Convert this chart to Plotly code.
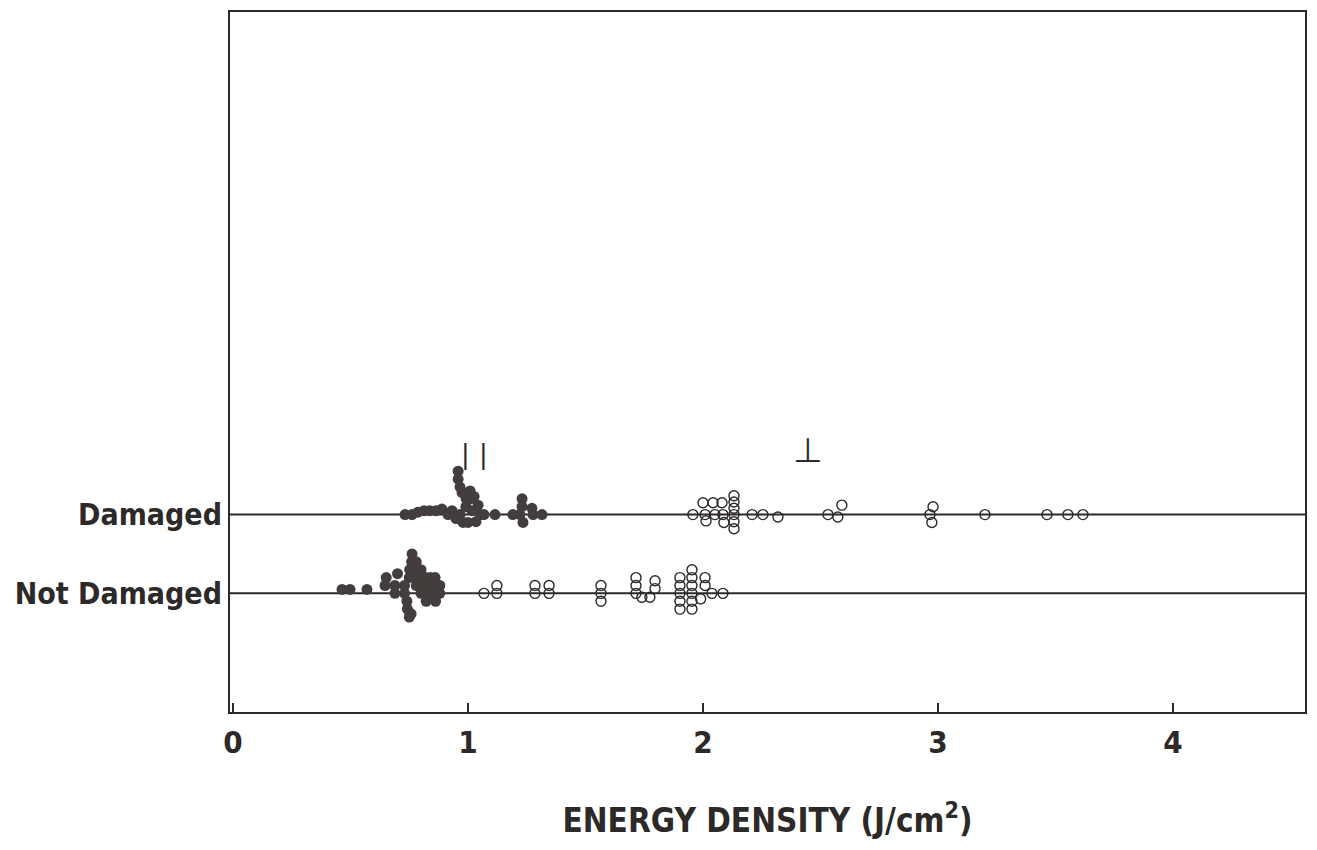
import plotly.graph_objects as go

# ---- data ----
row_labels = ["Not Damaged", "Damaged"]
row_values = [0, 1]
level_step = 0.1  # vertical stacking step (y units) for coincident points

# Damaged, parallel polarization (filled)
dam_par_x = [0.732, 0.762, 0.787, 0.813, 0.838, 0.864, 0.889, 0.915, 0.932, 0.949,
             0.958, 0.958, 0.966, 0.975, 0.992, 0.966, 0.979, 0.991, 1.009, 1.009,
             1.026, 1.017, 1.043, 1.000, 1.034, 1.051, 1.068, 1.115, 1.191, 1.221,
             1.230, 1.230, 1.234, 1.272, 1.277, 1.315]
dam_par_lvl = [0, 0, 0.3, 0.5, 0.5, 0.5, 0.7, 0, 0.5, -0.5,
               5.5, 4.5, 3.5, 2.8, 2.0, 0, -1, 1, 2, 3,
               2.3, 0.5, 1.2, -1, -0.9, 0, 0, 0, 0, 0,
               1, 2, -1, 0.8, 0, 0]

# Damaged, perpendicular polarization (open)
dam_perp_x = [1.957, 2.000, 2.009, 2.013, 2.043, 2.051, 2.081, 2.085, 2.089,
              2.132, 2.132, 2.132, 2.132, 2.132, 2.132,
              2.209, 2.255, 2.319, 2.532, 2.574, 2.591,
              2.966, 2.979, 2.974, 3.200, 3.464, 3.553, 3.617]
dam_perp_lvl = [0, 1.5, 0, -0.8, 1.5, 0, 1.5, 0, -1,
                2.4, 1.6, 0.8, 0, -0.9, -1.8,
                0, 0, -0.3, 0, -0.3, 1.2,
                0, 1, -1, 0, 0, 0, 0]

# Not damaged, parallel polarization (filled)
nd_par_x = [0.464, 0.498, 0.570, 0.647, 0.652, 0.689, 0.689, 0.700, 0.730, 0.730,
            0.740, 0.742, 0.750, 0.758, 0.750, 0.752, 0.760, 0.762, 0.780, 0.780,
            0.780, 0.780, 0.800, 0.800, 0.800, 0.800, 0.820, 0.820, 0.820, 0.822,
            0.840, 0.840, 0.840, 0.860, 0.860, 0.860, 0.862, 0.880, 0.880]
nd_par_lvl = [0.5, 0.5, 0.5, 1, 2, 0, 1, 2.5, 0, 1,
              -1, -2, -3, -2.6, 2, 3, 4, 5, 1, 2,
              3, 4, 0, 1, 2, 3, 0, 1, 2, -1,
              0, 1, 2, 0, 1, 2, -1, 0, 1]

# Not damaged, perpendicular polarization (open)
nd_perp_x = [1.068, 1.123, 1.123, 1.285, 1.285, 1.345, 1.345,
             1.566, 1.566, 1.566, 1.715, 1.715, 1.715, 1.740, 1.774, 1.796, 1.796,
             1.902, 1.902, 1.902, 1.902, 1.902,
             1.953, 1.953, 1.953, 1.953, 1.953, 1.953,
             2.009, 2.009, 1.990, 2.038, 2.085]
nd_perp_lvl = [0, 1, 0, 1, 0, 1, 0,
               1, 0, -1, 2, 1, 0, -0.5, -0.5, 1.6, 0.6,
               2, 1, 0, -1, -2,
               3, 2, 1, 0, -1, -2,
               2, 1, -0.7, 0, 0]

x_ticks = [0, 1, 2, 3, 4]
x_title = "ENERGY DENSITY (J/cm<sup>2</sup>)"

# ---- style ----
ink = "#2d2928"
fill = "#433e3d"
cond = "DejaVu Sans Condensed"


def ys(row, lvls):
    return [row + l * level_step for l in lvls]


fig = go.Figure()

# horizontal baselines
for r in row_values:
    fig.add_shape(type="line", xref="paper", x0=0, x1=1, yref="y", y0=r, y1=r,
                  line=dict(color=ink, width=2), layer="below")

filled = dict(symbol="circle", size=11, color=fill, line=dict(width=0))
opened = dict(symbol="circle-open", size=10, color=ink, line=dict(width=1.4, color=ink))

fig.add_trace(go.Scatter(x=dam_par_x, y=ys(1, dam_par_lvl), mode="markers", marker=filled,
                         showlegend=False, name="Damaged ∥"))
fig.add_trace(go.Scatter(x=dam_perp_x, y=ys(1, dam_perp_lvl), mode="markers", marker=opened,
                         showlegend=False, name="Damaged ⊥"))
fig.add_trace(go.Scatter(x=nd_par_x, y=ys(0, nd_par_lvl), mode="markers", marker=filled,
                         showlegend=False, name="Not Damaged ∥"))
fig.add_trace(go.Scatter(x=nd_perp_x, y=ys(0, nd_perp_lvl), mode="markers", marker=opened,
                         showlegend=False, name="Not Damaged ⊥"))

# polarization labels
for xv in [0.991, 1.068]:
    fig.add_annotation(x=xv, y=1.76, text="|", showarrow=False,
                       font=dict(family="DejaVu Sans", size=26, color=ink))
fig.add_annotation(x=2.447, y=1.82, text="⊥", showarrow=False,
                   font=dict(family="DejaVu Sans", size=34, color=ink))

fig.update_layout(
    width=1309, height=842,
    margin=dict(l=222, r=12, t=2, b=138),
    paper_bgcolor="white", plot_bgcolor="white",
    showlegend=False,
    xaxis=dict(range=[-0.0128, 4.562], tickvals=x_ticks, ticks="inside", ticklen=9,
               tickwidth=1.5, tickcolor=ink, showline=True, mirror=True, linewidth=2,
               linecolor=ink, showgrid=False, zeroline=False, ticklabelstandoff=2,
               tickfont=dict(family=cond, size=31, color=ink, weight="bold"),
               title=dict(text=x_title, standoff=50,
                          font=dict(family=cond, size=33, color=ink, weight="bold"))),
    yaxis=dict(range=[-1.506, 7.38], tickvals=row_values, ticktext=row_labels, ticks="",
               showline=True, mirror=True, linewidth=2, linecolor=ink, showgrid=False,
               zeroline=False, ticklabelstandoff=0,
               tickfont=dict(family=cond, size=30, color=ink, weight="bold")),
)

fig.write_html("out.html")
